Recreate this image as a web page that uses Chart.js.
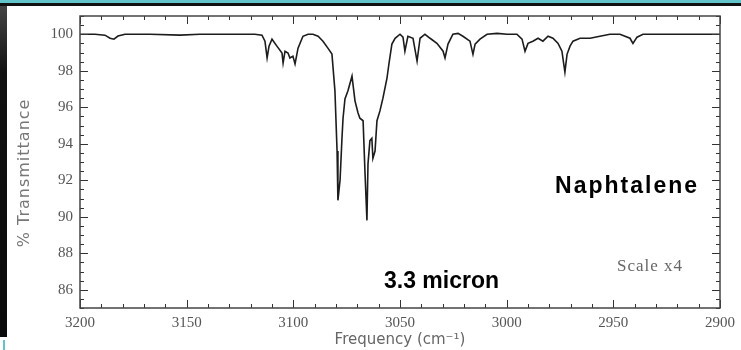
<!DOCTYPE html>
<html lang="en">
<head>
    <meta charset="UTF-8">
    <title>Naphtalene IR spectrum</title>
    <script src="https://cdn.jsdelivr.net/npm/chart.js"></script>
    <style>
        body {
            margin: 0;
            width: 741px;
            height: 350px;
            overflow: hidden;
            background: #fff;
            position: relative;
        }
        #chart {
            position: absolute;
            left: 0;
            top: 0;
        }
        .topbar {
            position: absolute;
            left: 0; top: 0;
            width: 741px; height: 3px;
            background: #62c3cb;
        }
        .topline {
            position: absolute;
            left: 0; top: 3px;
            width: 741px; height: 3px;
            background: #111;
        }
        .leftband {
            position: absolute;
            left: 0; top: 6px;
            width: 7px; height: 331px;
            background: linear-gradient(#444, #111 20%, #0a0a0a);
        }
        .corner {
            position: absolute;
            left: 3px; top: 340px;
            width: 2px; height: 10px;
            background: #62c3cb;
        }
    </style>
</head>
<body>
    <canvas id="chart" width="741" height="350"></canvas>
    <div class="topbar"></div>
    <div class="topline"></div>
    <div class="leftband"></div>
    <div class="corner"></div>

    <script>
        // spectrum: wavenumber (cm-1) and % transmittance
        const freq = [3200, 3193, 3188.3, 3185.9, 3184.1, 3182.2, 3178.9, 3167.2, 3153.1, 3143.8,
            3129.7, 3118, 3114.7, 3113.3, 3112.3, 3111.4, 3110, 3107.7, 3105.3, 3104.8,
            3103.9, 3102.5, 3101.6, 3100.2, 3099.2, 3097.8, 3095.5, 3093.1, 3090.8, 3088.4,
            3086.1, 3083.8, 3081.9, 3080.5, 3079.5, 3079.1, 3078.1, 3077.2, 3076.7, 3075.8,
            3074.4, 3072.5, 3071.1, 3069.7, 3068.8, 3067.3, 3066.4, 3065.5, 3065, 3064.1,
            3063.2, 3062.7, 3061.7, 3060.8, 3059.4, 3058, 3056.1, 3055.2, 3053.8, 3052.3,
            3050, 3048.6, 3047.7, 3046.3, 3043.9, 3042, 3040.6, 3038.3, 3035.9, 3032.7,
            3029.8, 3028.9, 3027.5, 3025.2, 3022.8, 3020.5, 3017.2, 3015.8, 3014.8, 3012.5,
            3009.2, 3004.5, 2999.8, 2995.2, 2992.8, 2991.4, 2990, 2987.7, 2985.3, 2983,
            2980.6, 2978.3, 2975.9, 2974.1, 2972.7, 2971.7, 2970.3, 2968.9, 2965.6, 2960.9,
            2956.3, 2951.6, 2946.9, 2942.2, 2940.8, 2938.9, 2936.1, 2928.1, 2918.8, 2909.4, 2900];
        const transmittance = [100, 100, 99.95, 99.78, 99.73, 99.9, 100, 100, 99.95, 100,
            100, 100, 99.95, 99.62, 98.7, 99.35, 99.73, 99.35, 98.97, 98.42,
            99.07, 98.97, 98.7, 98.8, 98.37, 99.24, 99.89, 100, 100, 99.89,
            99.62, 99.24, 98.91, 96.9, 93.6, 90.9, 92.0, 94.3, 95.4, 96.46,
            96.9, 97.7, 96.35, 95.7, 95.4, 95.26, 92.4, 89.8, 92.9, 94.17,
            94.3, 93.2, 93.6, 95.26, 95.8, 96.5, 97.6, 98.37, 99.46, 99.78,
            100, 99.84, 99.07, 99.89, 99.78, 98.53, 99.78, 100, 99.78, 99.5,
            99.07, 98.7, 99.46, 100, 100.05, 99.89, 99.62, 98.9, 99.46, 99.73,
            100, 100.05, 100, 100, 99.73, 99.07, 99.5, 99.62, 99.78, 99.62,
            99.89, 99.78, 99.5, 99.07, 97.93, 98.9, 99.35, 99.62, 99.78, 99.78,
            99.89, 100, 100, 99.78, 99.5, 99.84, 100, 100, 100, 100, 100];

        // tick labels and axis ranges
        const xTickLabels = [3200, 3150, 3100, 3050, 3000, 2950, 2900];
        const yTickLabels = [86, 88, 90, 92, 94, 96, 98, 100];
        const xRange = [2900, 3200];
        const yRange = [85, 101];
        const xMinor = 10;
        const yMinor = 0.5;

        // text written on the plot, placed in data coordinates
        const notes = [
            { text: 'Naphtalene', x: 2977.3, y: 91.67, font: 'bold 23px "Liberation Sans", Arial, sans-serif', color: '#000', spacing: '2px' },
            { text: '3.3 micron', x: 3057.5, y: 86.44, font: 'bold 23px "Liberation Sans", Arial, sans-serif', color: '#000', spacing: '0px' },
            { text: 'Scale x4', x: 2948.3, y: 87.26, font: '17px "Liberation Serif", serif', color: '#666', spacing: '1px' }
        ];
        const yTitle = '% Transmittance';

        // frame with inward ticks on all four sides, plus the notes
        const frameTicks = {
            id: 'frameTicks',
            afterDatasetsDraw(chart) {
                const ctx = chart.ctx;
                const a = chart.chartArea;
                const xs = chart.scales.x, ys = chart.scales.y;
                ctx.save();
                ctx.strokeStyle = '#333';
                ctx.lineWidth = 1;
                for (let v = xRange[0]; v <= xRange[1] + 1e-6; v += xMinor) {
                    const len = xTickLabels.includes(v) ? 8 : 4;
                    const px = Math.round(xs.getPixelForValue(v)) + 0.5;
                    ctx.beginPath();
                    ctx.moveTo(px, a.bottom); ctx.lineTo(px, a.bottom - len);
                    ctx.moveTo(px, a.top); ctx.lineTo(px, a.top + len);
                    ctx.stroke();
                }
                for (let v = yRange[0]; v <= yRange[1] + 1e-6; v += yMinor) {
                    const len = yTickLabels.includes(v) ? 8 : 4;
                    const py = Math.round(ys.getPixelForValue(v)) + 0.5;
                    ctx.beginPath();
                    ctx.moveTo(a.left, py); ctx.lineTo(a.left + len, py);
                    ctx.moveTo(a.right, py); ctx.lineTo(a.right - len, py);
                    ctx.stroke();
                }
                ctx.strokeStyle = '#444';
                ctx.lineWidth = 1.5;
                ctx.strokeRect(a.left, a.top, a.right - a.left, a.bottom - a.top);

                notes.forEach(n => {
                    ctx.font = n.font;
                    ctx.fillStyle = n.color;
                    ctx.letterSpacing = n.spacing;
                    ctx.textAlign = 'left';
                    ctx.textBaseline = 'middle';
                    ctx.fillText(n.text, xs.getPixelForValue(n.x), ys.getPixelForValue(n.y));
                });

                // rotated y title
                ctx.translate(25, ys.getPixelForValue(92.4));
                ctx.rotate(-Math.PI / 2);
                ctx.font = '16px "DejaVu Sans", sans-serif';
                ctx.letterSpacing = '1px';
                ctx.fillStyle = '#777';
                ctx.textAlign = 'center';
                ctx.fillText(yTitle, 0, 0);
                ctx.restore();
            }
        };

        const tickFont = { family: '"Liberation Serif", "Times New Roman", serif', size: 15 };

        new Chart(document.getElementById('chart'), {
            type: 'line',
            data: {
                datasets: [{
                    data: freq.map((f, i) => ({ x: f, y: transmittance[i] })),
                    borderColor: '#1c1c1c',
                    borderWidth: 1.6,
                    pointRadius: 0,
                    tension: 0,
                    fill: false
                }]
            },
            options: {
                responsive: false,
                animation: false,
                devicePixelRatio: 1,
                layout: { padding: { left: 8, right: 21, top: 15, bottom: 0 } },
                plugins: {
                    legend: { display: false },
                    tooltip: { enabled: false }
                },
                scales: {
                    x: {
                        type: 'linear',
                        reverse: true,
                        min: xRange[0],
                        max: xRange[1],
                        grid: { display: false, drawTicks: false },
                        border: { display: false },
                        afterBuildTicks(scale) { scale.ticks = xTickLabels.map(v => ({ value: v })); },
                        ticks: { padding: 6, color: '#555', font: tickFont, maxRotation: 0, callback: v => String(v) },
                        title: {
                            display: true,
                            text: 'Frequency (cm⁻¹)',
                            color: '#666',
                            font: { family: '"DejaVu Sans", sans-serif', size: 15 },
                            padding: { top: 0, bottom: 1 }
                        },
                        afterFit(scale) { scale.height = 42; }
                    },
                    y: {
                        min: yRange[0],
                        max: yRange[1],
                        grid: { display: false, drawTicks: false },
                        border: { display: false },
                        afterBuildTicks(scale) { scale.ticks = yTickLabels.map(v => ({ value: v })); },
                        ticks: { padding: 7, color: '#555', font: tickFont, callback: v => String(v) },
                        afterFit(scale) { scale.width = 72; }
                    }
                }
            },
            plugins: [frameTicks]
        });
    </script>
</body>
</html>
